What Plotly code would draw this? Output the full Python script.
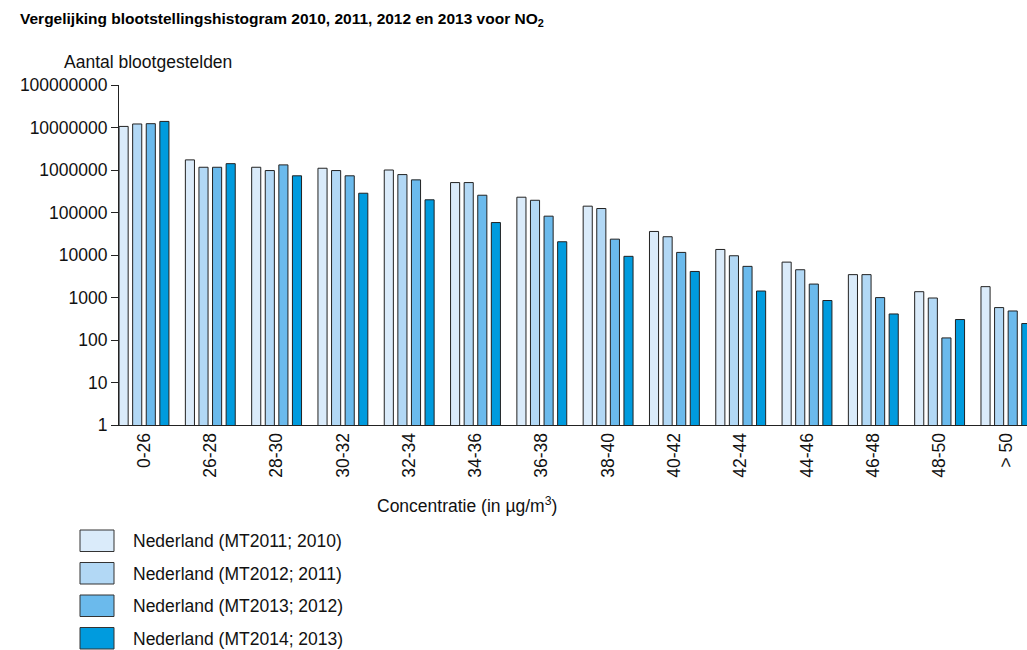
import plotly.graph_objects as go

categories = ["0-26", "26-28", "28-30", "30-32", "32-34", "34-36", "36-38",
              "38-40", "40-42", "42-44", "44-46", "46-48", "48-50", "> 50"]

series_names = ["Nederland (MT2011; 2010)", "Nederland (MT2012; 2011)",
                "Nederland (MT2013; 2012)", "Nederland (MT2014; 2013)"]

v2010 = [10600000, 1730000, 1160000, 1100000, 1000000, 506000, 229000,
         141000, 35800, 13500, 6800, 3450, 1370, 1800]
v2011 = [12100000, 1160000, 970000, 970000, 780000, 506000, 194000,
         124000, 26900, 9600, 4500, 3450, 973, 579]
v2012 = [12300000, 1160000, 1320000, 730000, 586000, 255000, 82000,
         23600, 11500, 5400, 2070, 995, 112, 482]
v2013 = [13900000, 1410000, 730000, 284000, 199000, 58000, 20500,
         9300, 4100, 1420, 850, 410, 303, 244]

colors = ["#DAEBFA", "#B2D8F5", "#6BBAEC", "#009BDE"]
series_values = [v2010, v2011, v2012, v2013]

ytick_vals = [1, 10, 100, 1000, 10000, 100000, 1000000, 10000000, 100000000]
ytick_text = ["1", "10", "100", "1000", "10000", "100000", "1000000",
              "10000000", "100000000"]

FONT = "Liberation Sans, Arial, sans-serif"
FS = 17.5
W, H = 1027, 650
L, R, T, B = 119, 0, 85, 225
PW, PH = W - L - R, H - T - B


def px(x):
    return (x - L) / PW


def py(y):
    return (H - B - y) / PH


fig = go.Figure()
for name, vals, col in zip(series_names, series_values, colors):
    fig.add_trace(go.Bar(
        x=categories, y=vals, name=name,
        marker=dict(color=col, line=dict(color="#222222", width=1)),
        showlegend=False,
    ))

fig.update_layout(
    width=W, height=H,
    margin=dict(l=L, r=R, t=T, b=B, pad=0),
    paper_bgcolor="white", plot_bgcolor="white",
    barmode="group", bargap=0.18, bargroupgap=0.33,
    font=dict(family=FONT, size=FS, color="#111111"),
    xaxis=dict(
        type="category", range=[-0.377, 13.318],
        showline=True, linecolor="#222222", linewidth=1,
        ticks="", tickangle=-90, showgrid=False, zeroline=False,
        tickfont=dict(family=FONT, size=FS, color="#111111"),
    ),
    yaxis=dict(
        type="log", range=[0, 8],
        tickvals=ytick_vals, ticktext=ytick_text,
        showline=True, linecolor="#222222", linewidth=1,
        ticks="outside", ticklen=7, tickcolor="#222222", tickwidth=1,
        showgrid=False, zeroline=False,
        tickfont=dict(family=FONT, size=FS, color="#111111"),
    ),
)

annotations = [
    dict(text="<b>Vergelijking blootstellingshistogram 2010, 2011, 2012 en 2013 voor NO<sub>2</sub></b>",
         x=px(18), y=py(19), xanchor="left", yanchor="middle",
         font=dict(family=FONT, size=15.5, color="#000000")),
    dict(text="Aantal blootgestelden",
         x=px(62), y=py(62), xanchor="left", yanchor="middle",
         font=dict(family=FONT, size=FS, color="#111111")),
    dict(text="Concentratie (in µg/m<sup>3</sup>)",
         x=px(375), y=py(505), xanchor="left", yanchor="middle",
         font=dict(family=FONT, size=FS, color="#111111")),
]

shapes = []
row_tops = [530, 562.5, 595, 627.5]
for i, (name, col) in enumerate(zip(series_names, colors)):
    top = row_tops[i]
    shapes.append(dict(type="rect", xref="paper", yref="paper",
                       x0=px(80), x1=px(114), y0=py(top + 21.5), y1=py(top),
                       fillcolor=col, line=dict(color="#333333", width=1)))
    annotations.append(dict(text=name, x=px(131), y=py(top + 11),
                            xanchor="left", yanchor="middle",
                            font=dict(family=FONT, size=FS, color="#111111")))

for a in annotations:
    a.update(xref="paper", yref="paper", showarrow=False)

fig.update_layout(annotations=annotations, shapes=shapes)

fig.write_html(
    "out.html",
    config={"displayModeBar": False},
    post_script="document.body.style.margin='0';document.body.style.overflow='hidden';",
)
